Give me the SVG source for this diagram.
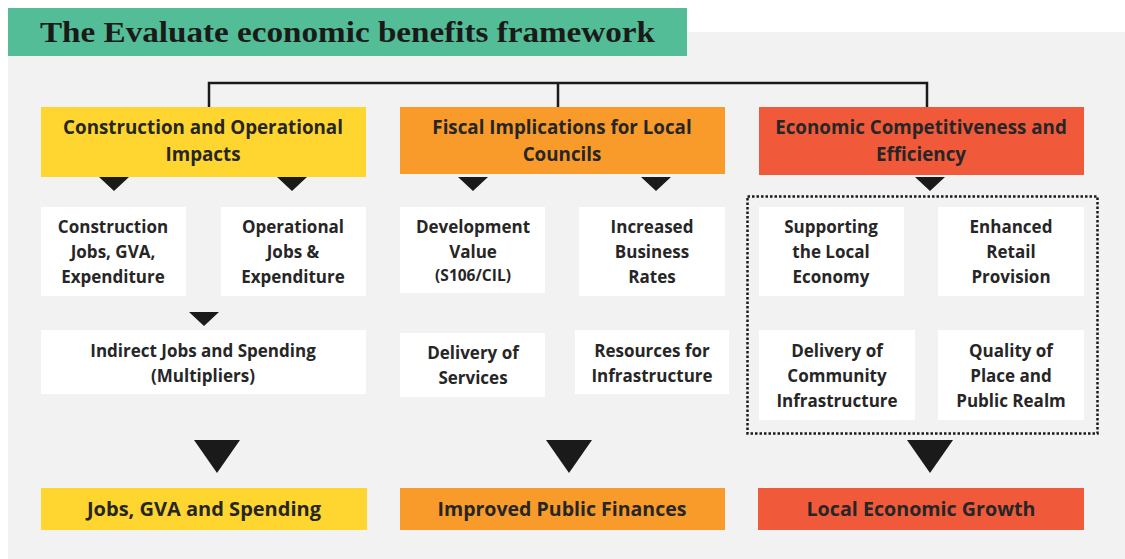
<svg xmlns="http://www.w3.org/2000/svg" width="1125" height="559" viewBox="0 0 1125 559">
<style>
.t{font-family:"Open Sans","Noto Sans",sans-serif;font-weight:700;fill:#262626;text-anchor:middle;font-size:17px}
.h{font-size:18.8px}
.b{font-size:20px}
.s{font-size:15.5px}
.w{fill:#ffffff}
.y{fill:#FFD530}
.o{fill:#F99B2A}
.r{fill:#F05A3A}
.tri{fill:#1a1a1a}
</style>
<rect x="0" y="0" width="1125" height="559" fill="#ffffff"/>
<rect x="8" y="32" width="1117" height="527" fill="#F2F2F2"/>
<g id="title">
<rect x="8" y="8" width="679" height="48" fill="#52BD96"/>
<text x="40" y="42" font-family="Liberation Serif,serif" font-weight="700" font-size="29" fill="#1a1a1a" textLength="615" lengthAdjust="spacingAndGlyphs">The Evaluate economic benefits framework</text>
</g>
<g id="connectors" fill="none" stroke="#1a1a1a" stroke-width="2.5">
<path d="M209 107 V83 H927 V107 M558 83 V107"/>
</g>
<g id="arrows" class="tri">
<polygon points="99,177 129,177 114,191"/>
<polygon points="277,177 307,177 292,191"/>
<polygon points="189,312 219,312 204,326"/>
<polygon points="458,177 488,177 473,191"/>
<polygon points="641,177 671,177 656,191"/>
<polygon points="915,177 945,177 930,191"/>
<polygon points="194,440 240,440 217,473"/>
<polygon points="546,440 592,440 569,473"/>
<polygon points="907,440 953,440 930,473"/>
</g>
<g id="h1"><rect class="y" x="41" y="107" width="325" height="70"/>
<text class="t h" x="203" y="134">Construction and Operational</text><text class="t h" x="203" y="161">Impacts</text></g>
<g id="h2"><rect class="o" x="400" y="107" width="325" height="67"/>
<text class="t h" x="562" y="134">Fiscal Implications for Local</text><text class="t h" x="562" y="161">Councils</text></g>
<g id="h3"><rect class="r" x="759" y="107" width="325" height="68"/>
<text class="t h" x="921" y="134">Economic Competitiveness and</text><text class="t h" x="921" y="161">Efficiency</text></g>

<g id="n1"><rect class="w" x="41" y="207" width="145" height="89"/>
<text class="t" x="113" y="233">Construction</text><text class="t" x="113" y="258">Jobs, GVA,</text><text class="t" x="113" y="283">Expenditure</text></g>
<g id="n2"><rect class="w" x="221" y="207" width="145" height="89"/>
<text class="t" x="293" y="233">Operational</text><text class="t" x="293" y="258">Jobs &amp;</text><text class="t" x="293" y="283">Expenditure</text></g>
<g id="n3"><rect class="w" x="41" y="330" width="325" height="64"/>
<text class="t" x="203" y="357">Indirect Jobs and Spending</text><text class="t" x="203" y="382">(Multipliers)</text></g>

<g id="n4"><rect class="w" x="400" y="207" width="145" height="86"/>
<text class="t" x="473" y="233">Development</text><text class="t" x="473" y="258">Value</text><text class="t s" x="473" y="281">(S106/CIL)</text></g>
<g id="n5"><rect class="w" x="579" y="207" width="146" height="89"/>
<text class="t" x="652" y="233">Increased</text><text class="t" x="652" y="258">Business</text><text class="t" x="652" y="283">Rates</text></g>
<g id="n6"><rect class="w" x="400" y="333" width="145" height="64"/>
<text class="t" x="473" y="359">Delivery of</text><text class="t" x="473" y="384">Services</text></g>
<g id="n7"><rect class="w" x="575" y="330" width="154" height="64"/>
<text class="t" x="652" y="357">Resources for</text><text class="t" x="652" y="382">Infrastructure</text></g>

<g id="group3"><rect x="747.5" y="196.5" width="350" height="237" fill="none" stroke="#1a1a1a" stroke-width="2.5" stroke-dasharray="2.5,2"/></g>
<g id="n8"><rect class="w" x="759" y="207" width="145" height="89"/>
<text class="t" x="831" y="233">Supporting</text><text class="t" x="831" y="258">the Local</text><text class="t" x="831" y="283">Economy</text></g>
<g id="n9"><rect class="w" x="938" y="207" width="146" height="89"/>
<text class="t" x="1011" y="233">Enhanced</text><text class="t" x="1011" y="258">Retail</text><text class="t" x="1011" y="283">Provision</text></g>
<g id="n10"><rect class="w" x="759" y="330" width="156" height="90"/>
<text class="t" x="837" y="357">Delivery of</text><text class="t" x="837" y="382">Community</text><text class="t" x="837" y="407">Infrastructure</text></g>
<g id="n11"><rect class="w" x="938" y="330" width="146" height="90"/>
<text class="t" x="1011" y="357">Quality of</text><text class="t" x="1011" y="382">Place and</text><text class="t" x="1011" y="407">Public Realm</text></g>

<g id="o1"><rect class="y" x="41" y="488" width="326" height="42"/>
<text class="t b" x="204" y="516" textLength="234" lengthAdjust="spacingAndGlyphs">Jobs, GVA and Spending</text></g>
<g id="o2"><rect class="o" x="400" y="488" width="325" height="42"/>
<text class="t b" x="562" y="516" textLength="249" lengthAdjust="spacingAndGlyphs">Improved Public Finances</text></g>
<g id="o3"><rect class="r" x="758" y="488" width="326" height="42"/>
<text class="t b" x="921" y="516" textLength="229" lengthAdjust="spacingAndGlyphs">Local Economic Growth</text></g>
</svg>
